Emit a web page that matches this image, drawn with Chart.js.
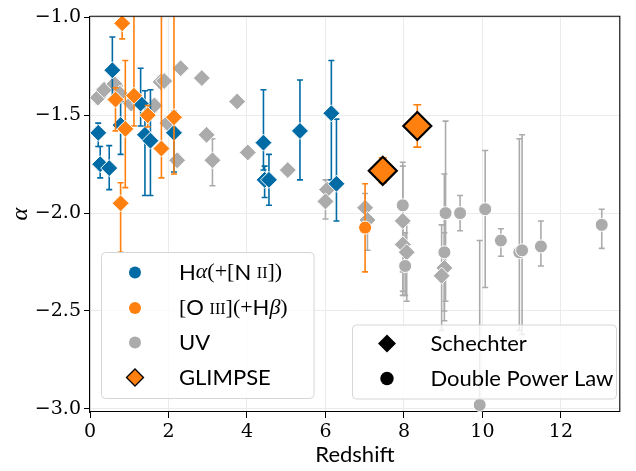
<!DOCTYPE html>
<html>
<head>
<meta charset="utf-8">
<script src="https://cdn.jsdelivr.net/npm/chart.js@4.4.1/dist/chart.umd.min.js"></script>
<style>
  html, body { margin: 0; padding: 0; background: #fff; }
  #wrap { width: 636px; height: 471px; }
</style>
</head>
<body>
<div id="wrap"><canvas id="alpha-chart" width="636" height="471"></canvas></div>
<script>
"use strict";

// Data: faint-end slope alpha vs redshift, with lower / upper error bounds
// shape: "S" = Schechter (diamond), "D" = double power law (circle)
var haZ     = [0.21, 0.26, 0.49, 0.57, 0.78, 1.29, 1.40, 1.54, 2.14, 4.42, 4.45, 4.56, 5.35, 6.15, 6.28];
var haAlpha = [-1.59, -1.75, -1.77, -1.27, -1.55, -1.44, -1.60, -1.63, -1.59, -1.64, -1.83, -1.83, -1.58, -1.49, -1.85];
var haLo    = [-1.66, -1.82, -1.88, -1.41, -1.70, -1.555, -1.91, -1.91, -1.79, -1.78, -1.92, -1.96, -1.83, -1.83, -2.04];
var haHi    = [-1.54, -1.66, -1.655, -1.10, -1.43, -1.26, -1.375, -1.37, -1.48, -1.37, -1.76, -1.70, -1.32, -1.22, -1.52];

var o3Z     = [0.65, 0.78, 0.82, 0.90, 1.12, 1.47, 1.82, 2.14, 7.01];
var o3Alpha = [-1.42, -1.95, -1.03, -1.57, -1.40, -1.50, -1.67, -1.51, -2.074];
var o3Lo    = [-1.58, -2.20, -1.11, -1.87, -1.555, -1.56, -1.82, -1.80, -2.30];
var o3Hi    = [-1.36, -1.845, -0.95, -1.22, -0.90, -1.45, -0.90, -0.90, -1.85];
var o3Shape = ["S", "S", "S", "S", "S", "S", "S", "S", "D"];

var uvZ     = [0.20, 0.36, 0.62, 0.76, 1.05, 1.64, 1.80, 1.89, 2.31, 2.85, 3.75, 1.97, 2.22,
               2.97, 3.12, 4.02, 5.04, 6.04, 6.00, 7.01, 7.07, 7.97, 7.97, 8.07, 9.03, 8.96,
               7.97, 8.03, 9.06, 9.03, 9.43, 10.07, 10.47, 10.94, 11.01, 11.49, 13.04, 9.93];
var uvAlpha = [-1.41, -1.37, -1.34, -1.39, -1.44, -1.45, -1.33, -1.325, -1.26, -1.31, -1.43, -1.54, -1.73,
               -1.60, -1.73, -1.69, -1.78, -1.88, -1.94, -1.973, -2.035, -2.04, -2.16, -2.20, -2.28, -2.32,
               -1.96, -2.27, -2.00, -2.20, -2.00, -1.98, -2.14, -2.20, -2.19, -2.17, -2.06, -2.98];
var uvLo    = [-1.44, -1.40, -1.37, -1.43, -1.47, -1.48, -1.36, -1.35, -1.28, -1.33, -1.45, -1.57, -1.76,
               -1.62, -1.86, -1.71, -1.80, -1.90, -2.03, -2.10, -2.19, -2.30, -2.42, -2.45, -2.55, -2.60,
               -2.40, -2.42, -2.45, -2.50, -2.09, -2.38, -2.22, -2.60, -2.62, -2.27, -2.18, -3.20];
var uvHi    = [-1.38, -1.34, -1.31, -1.35, -1.41, -1.42, -1.30, -1.30, -1.24, -1.29, -1.41, -1.51, -1.70,
               -1.58, -1.62, -1.67, -1.76, -1.86, -1.83, -1.90, -1.98, -1.76, -1.95, -2.05, -2.10, -2.06,
               -1.74, -2.10, -1.53, -1.80, -1.91, -1.68, -2.08, -1.62, -1.60, -2.04, -1.98, -2.14];
var uvShape = ["S", "S", "S", "S", "S", "S", "S", "S", "S", "S", "S", "S", "S",
               "S", "S", "S", "S", "S", "S", "S", "S", "S", "S", "S", "S", "S",
               "D", "D", "D", "D", "D", "D", "D", "D", "D", "D", "D", "D"];

var glZ     = [7.46, 8.34];
var glAlpha = [-1.784, -1.555];
var glLo    = [-1.845, -1.663];
var glHi    = [-1.717, -1.446];

var xTicks = [0, 2, 4, 6, 8, 10, 12];
var yTicks = [-3.0, -2.5, -2.0, -1.5, -1.0];

var BLUE = "#006BA4", ORANGE = "#FF800E", GREY = "#ABABAB";
var SANS = "Lato", SERIF = "Liberation Serif";

function points(zs, as) {
    return zs.map(function (z, i) { return { x: z, y: as[i] }; });
}
function styles(shape) {
    return shape.map(function (s) { return s === "D" ? "circle" : "rectRot"; });
}
function radii(shape) {
    return shape.map(function (s) { return s === "D" ? 6.5 : 8.5; });
}
function allS(n) {
    var a = [];
    for (var i = 0; i < n; i++) a.push("S");
    return a;
}

// Error bars, drawn under each dataset's markers
var errorBars = {
    id: "errorBars",
    beforeDatasetDraw: function (chart, args) {
        var ds = chart.data.datasets[args.index];
        if (!ds.errLo) return;
        var ctx = chart.ctx, xs = chart.scales.x, ys = chart.scales.y, a = chart.chartArea;
        var cap = ds.capSize;
        ctx.save();
        ctx.beginPath();
        ctx.rect(a.left, a.top, a.right - a.left, a.bottom - a.top);
        ctx.clip();
        ctx.strokeStyle = ds.barColor;
        ctx.lineWidth = 1.6;
        for (var i = 0; i < ds.data.length; i++) {
            var x = xs.getPixelForValue(ds.data[i].x);
            var y1 = ys.getPixelForValue(ds.errLo[i]);
            var y2 = ys.getPixelForValue(ds.errHi[i]);
            ctx.beginPath();
            ctx.moveTo(x, y1); ctx.lineTo(x, y2);
            ctx.moveTo(x - cap, y1); ctx.lineTo(x + cap, y1);
            ctx.moveTo(x - cap, y2); ctx.lineTo(x + cap, y2);
            ctx.stroke();
        }
        ctx.restore();
    }
};

// Frame (top and right spines)
var frame = {
    id: "frame",
    afterDatasetsDraw: function (chart) {
        var ctx = chart.ctx, a = chart.chartArea;
        ctx.save();
        ctx.strokeStyle = "#000";
        ctx.lineWidth = 1.1;
        ctx.beginPath();
        ctx.moveTo(a.left, a.top); ctx.lineTo(a.right, a.top); ctx.lineTo(a.right, a.bottom);
        ctx.stroke();
        ctx.restore();
    }
};

function diamond(ctx, x, y, r) {
    ctx.beginPath();
    ctx.moveTo(x - r, y); ctx.lineTo(x, y - r); ctx.lineTo(x + r, y); ctx.lineTo(x, y + r);
    ctx.closePath();
}
function dot(ctx, x, y, r) {
    ctx.beginPath();
    ctx.arc(x, y, r, 0, Math.PI * 2);
}
function roundBox(ctx, x, y, w, h, r) {
    ctx.beginPath();
    ctx.moveTo(x + r, y);
    ctx.arcTo(x + w, y, x + w, y + h, r);
    ctx.arcTo(x + w, y + h, x, y + h, r);
    ctx.arcTo(x, y + h, x, y, r);
    ctx.arcTo(x, y, x + w, y, r);
    ctx.closePath();
    ctx.fillStyle = "rgba(255,255,255,0.8)";
    ctx.fill();
    ctx.strokeStyle = "#d6d6d6";
    ctx.lineWidth = 1;
    ctx.stroke();
}
function rich(ctx, parts, x, y) {
    parts.forEach(function (p) {
        ctx.font = p[1];
        ctx.fillText(p[0], x, y + (p[2] || 0));
        x += ctx.measureText(p[0]).width;
    });
}

// Legends
var legends = {
    id: "legends",
    afterDraw: function (chart) {
        var ctx = chart.ctx;
        var sans = "22px " + SANS, serif = "22px '" + SERIF + "'";
        var ital = "italic 22px '" + SERIF + "'", small = "16px '" + SERIF + "'";
        ctx.save();
        ctx.textBaseline = "middle";
        ctx.textAlign = "left";

        roundBox(ctx, 101.5, 252.5, 212.5, 146, 4);
        dot(ctx, 135, 272.5, 6); ctx.fillStyle = BLUE; ctx.fill();
        dot(ctx, 135, 308, 6); ctx.fillStyle = ORANGE; ctx.fill();
        dot(ctx, 135, 342.5, 6); ctx.fillStyle = GREY; ctx.fill();
        diamond(ctx, 135, 377.5, 8.5); ctx.fillStyle = ORANGE; ctx.fill();
        ctx.strokeStyle = "#000"; ctx.lineWidth = 1.3; ctx.stroke();

        ctx.fillStyle = "#000";
        rich(ctx, [["H", sans], ["\u03b1", ital], ["(+[", serif], ["N ", sans], ["II", small, 1.5], ["])", serif]], 179, 272.5);
        rich(ctx, [["[", serif], ["O ", sans], ["III", small, 1.5], ["](+", serif], ["H", sans], ["\u03b2", ital], [")", serif]], 179, 308);
        rich(ctx, [["UV", sans]], 179, 342.5);
        rich(ctx, [["GLIMPSE", sans]], 179, 377.5);

        roundBox(ctx, 352.5, 325, 264, 74, 4);
        ctx.fillStyle = "#000";
        diamond(ctx, 387, 343.5, 9); ctx.fill();
        dot(ctx, 387, 378.5, 6.7); ctx.fill();
        rich(ctx, [["Schechter", sans]], 430.5, 343.5);
        rich(ctx, [["Double Power Law", sans]], 430.5, 378.5);
        ctx.restore();
    }
};

var datasets = [
    {
        label: "GLIMPSE",
        data: points(glZ, glAlpha),
        errLo: glLo, errHi: glHi, barColor: ORANGE, capSize: 4,
        pointStyle: "rectRot", pointRadius: 14,
        backgroundColor: ORANGE, borderColor: "#000", borderWidth: 2.2,
        order: 0
    },
    {
        label: "[O III](+H\u03b2)",
        data: points(o3Z, o3Alpha),
        errLo: o3Lo, errHi: o3Hi, barColor: ORANGE, capSize: 3,
        pointStyle: styles(o3Shape), pointRadius: radii(o3Shape),
        backgroundColor: ORANGE, borderColor: "#fff", borderWidth: 1,
        order: 1
    },
    {
        label: "H\u03b1(+[N II])",
        data: points(haZ, haAlpha),
        errLo: haLo, errHi: haHi, barColor: BLUE, capSize: 3,
        pointStyle: styles(allS(haZ.length)), pointRadius: radii(allS(haZ.length)),
        backgroundColor: BLUE, borderColor: "#fff", borderWidth: 1,
        order: 2
    },
    {
        label: "UV",
        data: points(uvZ, uvAlpha),
        errLo: uvLo, errHi: uvHi, barColor: GREY, capSize: 3,
        pointStyle: styles(uvShape), pointRadius: radii(uvShape),
        backgroundColor: GREY, borderColor: "#fff", borderWidth: 1,
        order: 3
    }
];

var ctx = document.getElementById("alpha-chart").getContext("2d");
var alphaChart = new Chart(ctx, {
    type: "scatter",
    data: { datasets: datasets },
    options: {
        responsive: false,
        animation: false,
        events: [],
        devicePixelRatio: 1,
        layout: { padding: { top: 10, right: 7, left: 0, bottom: 0 } },
        plugins: {
            legend: { display: false },
            tooltip: { enabled: false }
        },
        scales: {
            x: {
                type: "linear",
                min: 0, max: 13.5,
                afterFit: function (s) { s.height = 59; },
                afterBuildTicks: function (s) { s.ticks = xTicks.map(function (v) { return { value: v }; }); },
                ticks: {
                    callback: function (v) { return String(v); },
                    font: { family: "DejaVu Serif", size: 19 },
                    color: "#000", padding: 3, maxRotation: 0
                },
                grid: { color: "#ebebeb", lineWidth: 1, tickColor: "#000", tickLength: 6 },
                border: { color: "#000", width: 1.1 },
                title: {
                    display: true, text: "Redshift", color: "#000",
                    font: { family: SANS, size: 22 }, padding: { top: 0, bottom: 3 }
                }
            },
            y: {
                type: "linear",
                min: -3.016, max: -0.994,
                afterFit: function (s) { s.width = 90; },
                afterBuildTicks: function (s) { s.ticks = yTicks.map(function (v) { return { value: v }; }); },
                ticks: {
                    callback: function (v) { return (v < 0 ? "\u2212" : "") + Math.abs(v).toFixed(1); },
                    font: { family: "DejaVu Serif", size: 19 },
                    color: "#000", padding: 3
                },
                grid: { color: "#ebebeb", lineWidth: 1, tickColor: "#000", tickLength: 6 },
                border: { color: "#000", width: 1.1 },
                title: {
                    display: true, text: "\u03b1", color: "#000",
                    font: { family: SERIF, size: 24, style: "italic" }, padding: { top: 6, bottom: 0 }
                }
            }
        }
    },
    plugins: [errorBars, frame, legends]
});
</script>
</body>
</html>
